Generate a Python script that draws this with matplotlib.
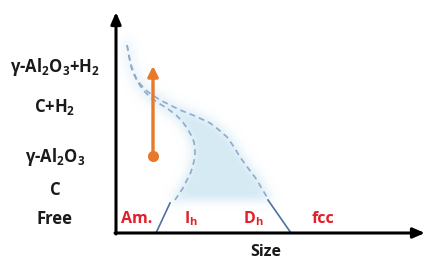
import numpy as np
import matplotlib
matplotlib.use("Agg")
import matplotlib.pyplot as plt
from matplotlib.path import Path

plt.rcParams['font.family'] = ['Open Sans', 'DejaVu Sans']
plt.rcParams['mathtext.fontset'] = 'custom'
plt.rcParams['mathtext.rm'] = 'Open Sans:bold'
plt.rcParams['mathtext.it'] = 'Open Sans:bold'
plt.rcParams['mathtext.bf'] = 'Open Sans:bold'

# schematic, coordinates (pixels, y downward)
y_labels = [r'γ-Al$_2$O$_3$+H$_2$', r'C+H$_2$', r'γ-Al$_2$O$_3$', 'C', 'Free']
y_label_pos = [67, 107, 157, 190, 219]
x_labels = ['Am.', r'I$_h$', r'D$_h$', 'fcc']
x_label_pos = [137, 191, 253, 323]

left_x = [127, 129, 132, 137, 143, 151, 160, 168, 176, 182, 187, 191, 194, 195, 195, 193, 191, 187, 183, 179, 175]
left_y = [45, 57, 70, 81, 90, 98, 104, 109, 115, 121, 128, 135, 142, 150, 157, 165, 172, 180, 188, 194, 200]
right_x = [127, 129, 131, 134, 137, 142, 148, 154, 160, 170, 180, 195, 210, 219, 227, 234, 240, 248, 257, 262, 267]
right_y = [45, 55, 65, 73, 80, 86, 92, 96, 100, 105, 110, 116, 123, 130, 137, 147, 157, 168, 180, 189, 197]
boundary1 = ([156, 170], [233, 203])
boundary2 = ([291, 268], [233, 200])
arrow_x = 153
arrow_y0, arrow_y1 = 156, 66

W, H = 426, 261
fig = plt.figure(figsize=(W / 100, H / 100), dpi=100)
ax = fig.add_axes([0, 0, 1, 1])
ax.set_xlim(0, W)
ax.set_ylim(H, 0)
ax.axis('off')

# shaded region between the two curves, blurred
gx, gy = np.meshgrid(np.arange(W) + 0.5, np.arange(H) + 0.5)
pts = np.column_stack([gx.ravel(), gy.ravel()])
poly = list(zip(left_x, left_y)) + [(175, 200), (267, 200)] + list(zip(right_x[::-1], right_y[::-1]))
mask = Path(poly).contains_points(pts).reshape(H, W).astype(float)

# faint glow along the curves
t = np.linspace(0, len(left_x) - 1, 200)
cx = np.concatenate([np.interp(t, np.arange(len(left_x)), left_x), np.interp(t, np.arange(len(right_x)), right_x)])
cy = np.concatenate([np.interp(t, np.arange(len(left_y)), left_y), np.interp(t, np.arange(len(right_y)), right_y)])
d = np.full(H * W, 1e9)
for px, py in zip(cx, cy):
    d = np.minimum(d, (pts[:, 0] - px) ** 2 + (pts[:, 1] - py) ** 2)
glow = (np.sqrt(d) < 6).reshape(H, W) * 0.4
mask = np.maximum(mask, glow)

k = np.exp(-0.5 * (np.arange(-14, 15) / 4.5) ** 2)
k /= k.sum()
for axis in (0, 1):
    mask = np.apply_along_axis(lambda m: np.convolve(m, k, mode='same'), axis, mask)

img = np.zeros((H, W, 4))
img[..., 0], img[..., 1], img[..., 2] = 0.84, 0.92, 0.96
img[..., 3] = np.clip(mask * 1.05, 0, 1)
ax.imshow(img, extent=(0, W, H, 0), interpolation='bilinear', zorder=1)

ax.plot(left_x, left_y, color='#8fa9cf', lw=1.2, dashes=(3.5, 2.5), zorder=2)
ax.plot(right_x, right_y, color='#8fa9cf', lw=1.2, dashes=(3.5, 2.5), zorder=2)
ax.plot(*boundary1, color='#4f70a0', lw=1.2, zorder=2)
ax.plot(*boundary2, color='#4f70a0', lw=1.2, zorder=2)

# axes arrows
ax.annotate('', xy=(116, 12), xytext=(116, 234),
            arrowprops=dict(arrowstyle='-|>,head_length=0.7,head_width=0.3', color='black', lw=2.2,
                            shrinkA=0, shrinkB=0), zorder=3)
ax.annotate('', xy=(425, 233), xytext=(115, 233),
            arrowprops=dict(arrowstyle='-|>,head_length=0.7,head_width=0.3', color='black', lw=2.2,
                            shrinkA=0, shrinkB=0), zorder=3)

# orange arrow
ax.annotate('', xy=(arrow_x, arrow_y1), xytext=(arrow_x, arrow_y0),
            arrowprops=dict(arrowstyle='-|>,head_length=0.6,head_width=0.3', color='#e8782a', lw=2.4,
                            shrinkA=0, shrinkB=0), zorder=4)
ax.plot([arrow_x], [arrow_y0], 'o', color='#e8782a', ms=7, zorder=4)

for lab, y in zip(y_labels, y_label_pos):
    ax.text(55, y, lab, ha='center', va='center', fontsize=12, fontweight='bold', color='#1a1a1a')
for lab, x in zip(x_labels, x_label_pos):
    ax.text(x, 219, lab, ha='center', va='center', fontsize=11.5, fontweight='bold', color='#e0202a')
ax.text(266, 252, 'Size', ha='center', va='center', fontsize=11.5, fontweight='bold', color='#1a1a1a')

fig.savefig('out.png', dpi=100)
